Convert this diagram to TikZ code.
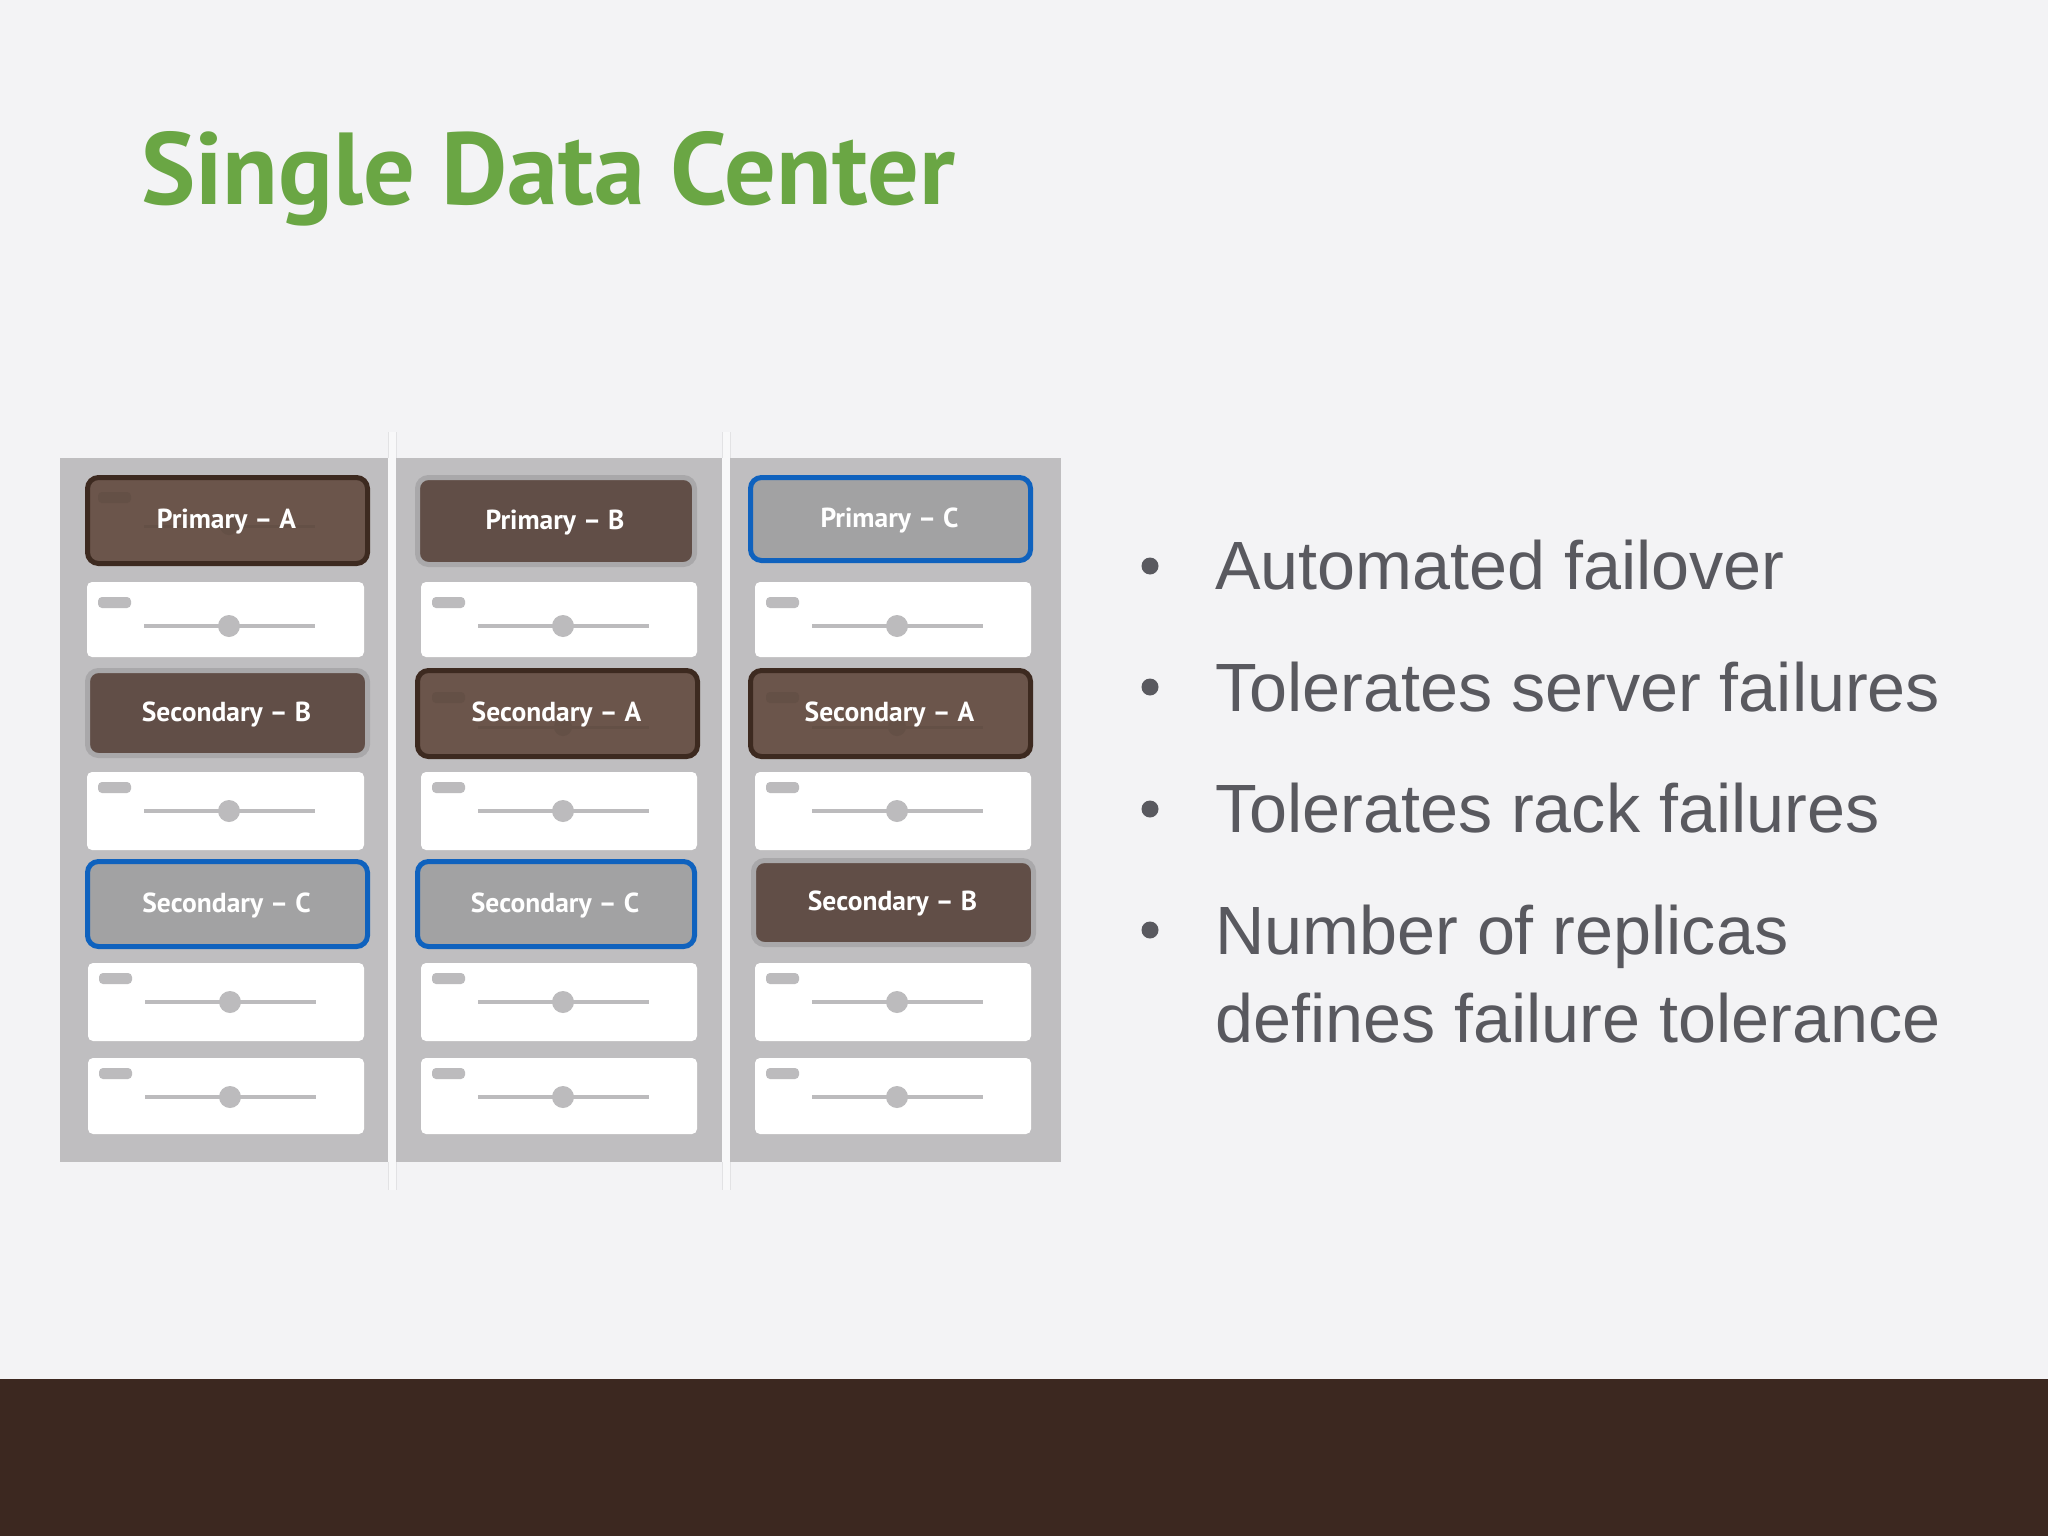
\documentclass[tikz,border=0pt]{standalone}
\usepackage{fontspec}
\setmainfont{Liberation Sans}
\newfontfamily\ptsans{PT Sans}
\definecolor{bgc}{HTML}{F3F3F5}
\definecolor{footc}{HTML}{3C2820}
\definecolor{titlec}{HTML}{6AA644}
\definecolor{bodyc}{HTML}{59595F}
\definecolor{panelc}{HTML}{BFBEC0}
\definecolor{markc}{HTML}{BCBBBD}
\definecolor{sepc}{HTML}{E2E2E4}
\definecolor{darkedge}{HTML}{3D2A20}
\definecolor{darkfill}{HTML}{6B554B}
\definecolor{darkghost}{HTML}{645046}
\definecolor{midedge}{HTML}{A9A8AA}
\definecolor{midfill}{HTML}{614E47}
\definecolor{blueedge}{HTML}{0F62BE}
\definecolor{bluefill}{HTML}{A2A2A3}
\tikzset{
  x=1pt,y=-1pt,
  boxbase/.style={rounded corners=11pt,inner sep=0pt,outer sep=0pt,line width=5pt},
  failedbox/.style={boxbase,draw=darkedge,fill=darkfill},
  downbox/.style={boxbase,draw=midedge,fill=midfill},
  bluebox/.style={boxbase,draw=blueedge,fill=bluefill},
  card/.style={rounded corners=5pt,fill=white,inner sep=0pt,outer sep=0pt},
  panel/.style={fill=panelc},
  separator/.style={fill=bgc!60!white,draw=none},
  sepedge/.style={draw=sepc,line width=1pt},
  boxlabel/.style={inner sep=0pt,text=white,font=\ptsans\bfseries\fontsize{27.5}{32}\selectfont},
  bullettext/.style={anchor=base west,inner sep=0pt,text=bodyc,font=\fontsize{68.3}{82}\selectfont},
  bulletmark/.style={circle,fill=bodyc,inner sep=0pt,minimum size=17pt},
}
% [marks drawn under the label], name, x0, y0, x1, y1, style, text
\newcommand{\statebox}[8][]{%
  \pgfmathsetmacro{\cxx}{(#3+#5)/2}\pgfmathsetmacro{\cyy}{(#4+#6)/2}%
  \pgfmathsetmacro{\wdd}{#5-#3-5}\pgfmathsetmacro{\htt}{#6-#4-5}%
  \node[#7,minimum width=\wdd pt,minimum height=\htt pt] (#2) at (\cxx,\cyy) {};%
  #1%
  \node[boxlabel] (#2t) at (\cxx-1,\cyy+2) {\strut #8};}
% faint marks showing through a dark box: x0 of pill, pill top, track y, knob x
\newcommand{\ghostmarks}[4]{%
  \fill[darkghost,rounded corners=4pt] (#1,#2) rectangle (#1+33,#2+11);%
  \draw[darkghost,line width=3pt] (#1+46,#3) -- (#1+217,#3);%
  \fill[darkghost] (#4,#3) circle (9);}
% [vertical shift of the marks], name, x0, y0, x1, y1
\newcommand{\slidercard}[6][-5]{%
  \pgfmathsetmacro{\cxx}{(#3+#5)/2}\pgfmathsetmacro{\cyy}{(#4+#6)/2}%
  \pgfmathsetmacro{\wdd}{#5-#3}\pgfmathsetmacro{\htt}{#6-#4}%
  \node[card,minimum width=\wdd pt,minimum height=\htt pt] (#2) at (\cxx,\cyy) {};%
  \pgfmathsetmacro{\tracky}{#4+44+#1}%
  \fill[markc,rounded corners=4pt] (#3+11,#4+15+#1) rectangle (#3+44,#4+26+#1);%
  \draw[markc,line width=4.5pt] (#3+57,\tracky) -- (#3+228,\tracky);%
  \fill[markc] (#3+142,\tracky) circle (11);}
\begin{document}
\begin{tikzpicture}
\useasboundingbox (0,0) rectangle (2048,1536);
\fill[bgc] (0,0) rectangle (2048,1536);
\fill[footc] (0,1379) rectangle (2048,1536);
\node[anchor=base west,inner sep=0pt,text=titlec,font=\ptsans\bfseries\fontsize{102.3}{120}\selectfont] (title) at (141,204) {Single Data Center};
% panels
\fill[panel] (60,458) rectangle (1061,1162);
\fill[separator] (388,432) rectangle (396,1190);
\fill[separator] (722,432) rectangle (730,1190);
\draw[sepedge] (388,432) -- (388,458) (396,432) -- (396,458) (388,1162) -- (388,1190) (396,1162) -- (396,1190);
\draw[sepedge] (722,432) -- (722,458) (730,432) -- (730,458) (722,1162) -- (722,1190) (730,1162) -- (730,1190);
% column 1
\statebox[\ghostmarks{98}{492}{526}{229}]{pa}{85}{475}{370}{566}{failedbox}{Primary – A}
\slidercard[0]{c11}{87}{582}{364}{657}
\statebox{sb1}{85}{668}{370}{758}{downbox}{Secondary – B}
\slidercard{c12}{87}{772}{364}{850}
\statebox{sc1}{85}{859}{370}{949}{bluebox}{Secondary – C}
\slidercard{c13}{88}{963}{364}{1041}
\slidercard{c14}{88}{1058}{364}{1134}
% column 2
\statebox{pb}{415}{475}{697}{567}{downbox}{Primary – B}
\slidercard[0]{c21}{421}{582}{697}{657}
\statebox[\ghostmarks{432}{692}{727}{563}]{sa2}{415}{668}{700}{759}{failedbox}{Secondary – A}
\slidercard{c22}{421}{772}{697}{850}
\statebox{sc2}{415}{859}{697}{949}{bluebox}{Secondary – C}
\slidercard{c23}{421}{963}{697}{1041}
\slidercard{c24}{421}{1058}{697}{1134}
% column 3
\statebox{pc}{748}{475}{1033}{563}{bluebox}{Primary – C}
\slidercard[0]{c31}{755}{582}{1031}{657}
\statebox[\ghostmarks{766}{692}{727}{897}]{sa3}{748}{668}{1033}{759}{failedbox}{Secondary – A}
\slidercard{c32}{755}{772}{1031}{850}
\statebox{sb3}{751}{858}{1036}{947}{downbox}{Secondary – B}
\slidercard{c33}{755}{963}{1031}{1041}
\slidercard{c34}{755}{1058}{1031}{1134}
% bullets
\node[bulletmark] (b1) at (1150,566) {};
\node[bulletmark] (b2) at (1150,687) {};
\node[bulletmark] (b3) at (1150,809) {};
\node[bulletmark] (b4) at (1150,930) {};
\node[bullettext] (t1) at (1215,589) {Automated failover};
\node[bullettext] (t2) at (1215,711) {Tolerates server failures};
\node[bullettext] (t3) at (1215,832) {Tolerates rack failures};
\node[bullettext] (t4) at (1215,954) {Number of replicas};
\node[bullettext] (t5) at (1215,1042) {defines failure tolerance};
\end{tikzpicture}
\end{document}
